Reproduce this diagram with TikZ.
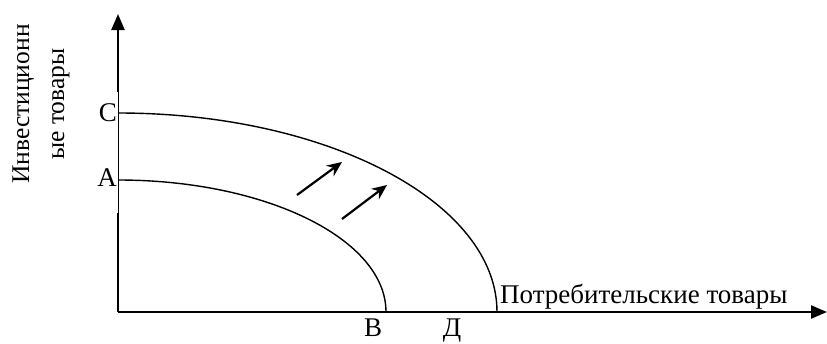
\documentclass[tikz,border=0pt]{standalone}
\usepackage{fontspec}
\setmainfont{Liberation Serif}
\usetikzlibrary{arrows.meta}
\begin{document}
\begin{tikzpicture}[x=1pt,y=-1pt,
  axis/.style={line width=2.4pt},
  curve/.style={line width=1.4pt},
  shiftarrow/.style={line width=2.2pt,-{Stealth[length=15pt,width=13pt]}},
  lbl/.style={font=\fontsize{27}{33}\selectfont,inner sep=0pt},
  ylblstyle/.style={font=\fontsize{25.5}{35}\selectfont,inner sep=0pt}]
\useasboundingbox (0,0) rectangle (827,343);
\coordinate (O) at (118,312);
\coordinate (Ybreak1) at (118,213);
\coordinate (Ybreak2) at (118,92);
\coordinate (Ytop) at (118,14);
\coordinate (Xend) at (827,312);
% axes
\draw[axis] (O) -- (Ybreak1);
\draw[line width=1pt] (Ybreak1) -- (Ybreak2);
\draw[axis,-{Triangle[length=16pt,width=13pt]}] (Ybreak2) -- (Ytop);
\draw[axis,-{Triangle[length=16pt,width=13pt]}] (O) -- (Xend);
% curves (quarter ellipses)
\coordinate (Cpt) at (118,113);
\coordinate (Apt) at (118,180);
\draw[curve] (Cpt) arc[start angle=90,end angle=0,x radius=379,y radius=-199];
\draw[curve] (Apt) arc[start angle=90,end angle=0,x radius=268,y radius=-132];
% shift arrows
\coordinate (a1s) at (297,195); \coordinate (a1e) at (342,162);
\coordinate (a2s) at (342,219); \coordinate (a2e) at (387,185);
\draw[shiftarrow] (a1s) -- (a1e);
\draw[shiftarrow] (a2s) -- (a2e);
% labels
\node[lbl,anchor=east] (Clbl) at (117,113) {С};
\node[lbl,anchor=east] (Albl) at (117,178) {А};
\node[lbl,anchor=base] (Blbl) at (373,336) {В};
\node[lbl,anchor=base] (Dlbl) at (452,336) {Д};
\node[lbl,anchor=base west] (xlbl) at (500,303) {Потребительские товары};
\node[ylblstyle,rotate=90,align=center] (ylbl) at (41,104) {Инвестиционн\\ые товары};
\end{tikzpicture}
\end{document}
